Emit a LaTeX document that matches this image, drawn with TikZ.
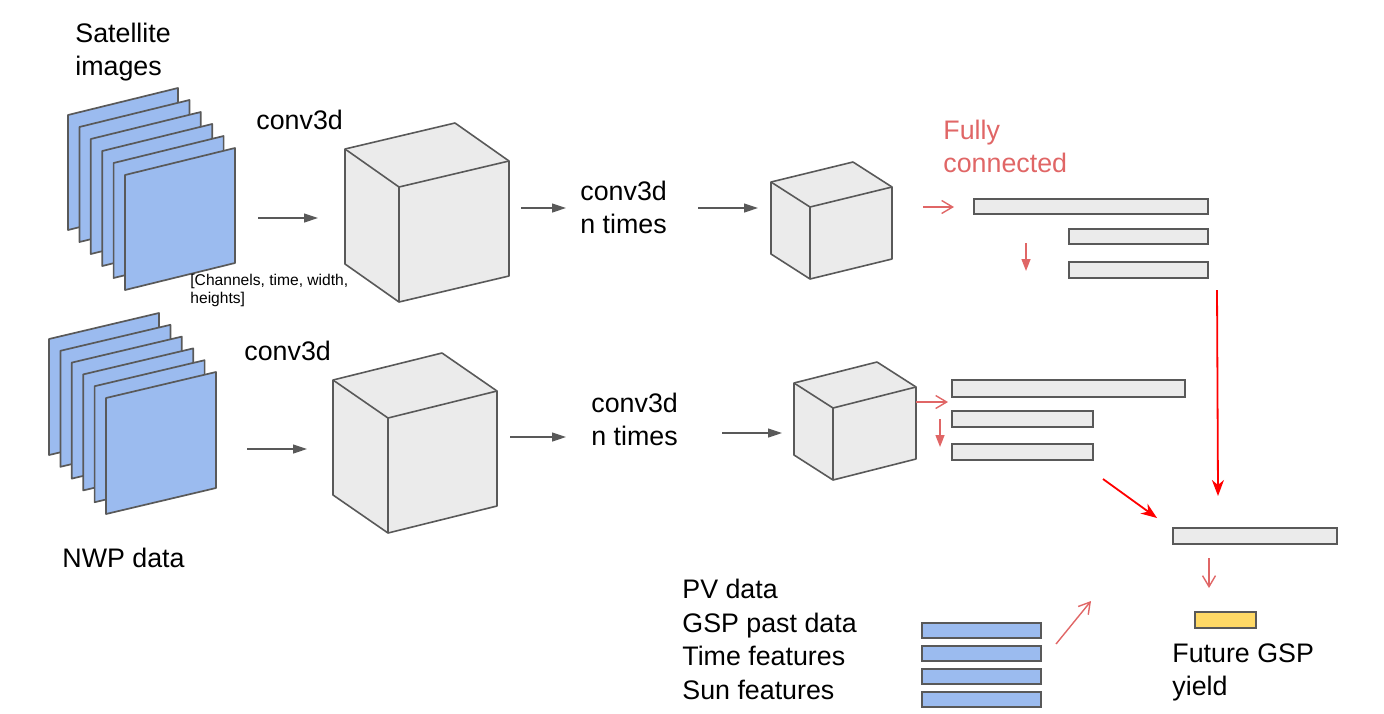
\documentclass[tikz,border=0pt]{standalone}
\usepackage{fontspec}
\setmainfont{Liberation Sans}
\usetikzlibrary{arrows.meta}
\definecolor{sheetC}{RGB}{155,187,239}
\definecolor{cubeC}{RGB}{235,235,235}
\definecolor{edgeC}{RGB}{89,89,89}
\definecolor{fcC}{RGB}{224,102,102}
\definecolor{hotC}{RGB}{255,0,0}
\definecolor{outC}{RGB}{255,217,102}

% cuboid: x, y (back-left-top corner), depth dx, depth dy, width, rise, height
\newcommand{\cuboid}[7]{%
  \filldraw[cube] (#1,#2) -- ++(#5,-#6) -- ++(#3,#4) -- ++(0,#7) -- ++(-#5,#6) -- ++(-#3,-#4) -- cycle;
  \draw[cube] (#1,#2) -- ++(#3,#4) -- ++(#5,-#6);
  \draw[cube] (#1+#3,#2+#4) -- ++(0,#7);
}

\begin{document}
\begin{tikzpicture}[
  x=0.5pt, y=-0.5pt,
  txt/.style={font=\fontsize{13.4}{16.5}\selectfont, inner sep=0, anchor=base west, align=left},
  smalltxt/.style={txt, font=\fontsize{7.8}{9}\selectfont},
  sheet/.style={draw=edgeC, fill=sheetC, line width=0.85pt, line join=round},
  cube/.style={draw=edgeC, fill=cubeC, line width=0.8pt, line join=round},
  bar/.style={draw=edgeC, fill=cubeC, line width=1pt, inner sep=0, anchor=north west},
  feat/.style={bar, fill=sheetC},
  fwd/.style={-{Triangle[length=7pt, width=4.5pt]}, draw=edgeC, line width=0.6pt},
  fcarrow/.style={-{Straight Barb[length=5.5pt, width=6.5pt]}, draw=fcC, line width=0.7pt},
  fcdown/.style={-{Triangle[length=6pt, width=4.5pt]}, draw=fcC, line width=0.7pt},
  merge/.style={-{Stealth[length=8pt, width=6pt, inset=2.5pt]}, draw=hotC, line width=0.9pt},
]
\def\unitpx{0.5pt}
\path[use as bounding box] (0,0) rectangle (1384,713);

% ============ input stacks ============
\foreach \i in {0,...,5}
  \filldraw[sheet] ({68+11.4*\i},{115+12*\i}) -- ++(110,-27) -- ++(0,115) -- ++(-110,27) -- cycle;
\foreach \i in {0,...,5}
  \filldraw[sheet] ({49+11.4*\i},{339+11.8*\i}) -- ++(110,-26) -- ++(0,116) -- ++(-110,26) -- cycle;

% (base anchor of a multi-line node = last line)
\node[txt] (satlab) at (75,75) {Satellite\\images};
\node[smalltxt] (dimlab) at (190,303) {[Channels, time, width,\\heights]};
\node[txt] (nwplab) at (62,567) {NWP data};

% ============ conv blocks ============
\cuboid{345}{149}{54}{38}{110}{26}{115}
\cuboid{333}{380}{55}{38}{109}{27}{115}
\cuboid{771}{182}{39}{25}{82}{20}{72}
\cuboid{794}{383}{39}{25}{83}{21}{72}

\node[txt] (conv1) at (256,129) {conv3d};
\node[txt] (conv2) at (244,360) {conv3d};
\node[txt] (convn1) at (580,233) {conv3d\\n times};
\node[txt] (convn2) at (591,445) {conv3d\\n times};

% ============ fully connected ============
\node[txt, text=fcC] (fclab) at (943,172) {Fully\\connected};
\node[bar, minimum width=234*\unitpx, minimum height=15*\unitpx] (fc1a) at (973,198) {};
\node[bar, minimum width=139*\unitpx, minimum height=15*\unitpx] (fc1b) at (1068,228) {};
\node[bar, minimum width=139*\unitpx, minimum height=16*\unitpx] (fc1c) at (1068,261) {};
\node[bar, minimum width=233*\unitpx, minimum height=17*\unitpx] (fc2a) at (951,379) {};
\node[bar, minimum width=141*\unitpx, minimum height=16*\unitpx] (fc2b) at (951,410) {};
\node[bar, minimum width=141*\unitpx, minimum height=16*\unitpx] (fc2c) at (951,443) {};
\node[bar, minimum width=164*\unitpx, minimum height=16*\unitpx] (fcout) at (1172,527) {};
\node[bar, fill=outC, minimum width=61*\unitpx, minimum height=16*\unitpx] (yield) at (1194,611) {};
\node[txt] (outlab) at (1172,695) {Future GSP\\yield};

% ============ extra features ============
\foreach \y/\n in {622/f1,645/f2,668/f3,691/f4}
  \node[feat, minimum width=119*\unitpx, minimum height=15*\unitpx] (\n) at (921,\y) {};
\node[txt, font=\fontsize{13.4}{16.75}\selectfont] (featlab) at (682,699) {PV data\\GSP past data\\Time features\\Sun features};

% ============ arrow ends ============
\coordinate (s1a) at (258,218);  \coordinate (s1b) at (318,218);
\coordinate (s2a) at (521,208);  \coordinate (s2b) at (566,208);
\coordinate (s3a) at (698,208);  \coordinate (s3b) at (758,208);
\coordinate (n1a) at (247,449);  \coordinate (n1b) at (307,449);
\coordinate (n2a) at (510,437);  \coordinate (n2b) at (566,437);
\coordinate (n3a) at (722,433);  \coordinate (n3b) at (782,433);
\coordinate (t1a) at (923,207);  \coordinate (t1b) at (954,207);
\coordinate (t2a) at (1026,243); \coordinate (t2b) at (1026,271);
\coordinate (b1a) at (916,402);  \coordinate (b1b) at (948,402);
\coordinate (b2a) at (940,419);  \coordinate (b2b) at (940,447);
\coordinate (ma) at (1217,290);  \coordinate (mb) at (1218,496);
\coordinate (mc) at (1103,479);  \coordinate (md) at (1157,518);
\coordinate (fa) at (1056,644);  \coordinate (fb) at (1091,601);
\coordinate (oa) at (1209,558);  \coordinate (ob) at (1209,588);

\draw[fwd] (s1a) -- (s1b);
\draw[fwd] (s2a) -- (s2b);
\draw[fwd] (s3a) -- (s3b);
\draw[fwd] (n1a) -- (n1b);
\draw[fwd] (n2a) -- (n2b);
\draw[fwd] (n3a) -- (n3b);
\draw[fcarrow] (t1a) -- (t1b);
\draw[fcdown] (t2a) -- (t2b);
\draw[fcarrow] (b1a) -- (b1b);
\draw[fcdown] (b2a) -- (b2b);
\draw[merge] (ma) -- (mb);
\draw[merge] (mc) -- (md);
\draw[fcarrow] (fa) -- (fb);
\draw[fcarrow] (oa) -- (ob);

\end{tikzpicture}
\end{document}
